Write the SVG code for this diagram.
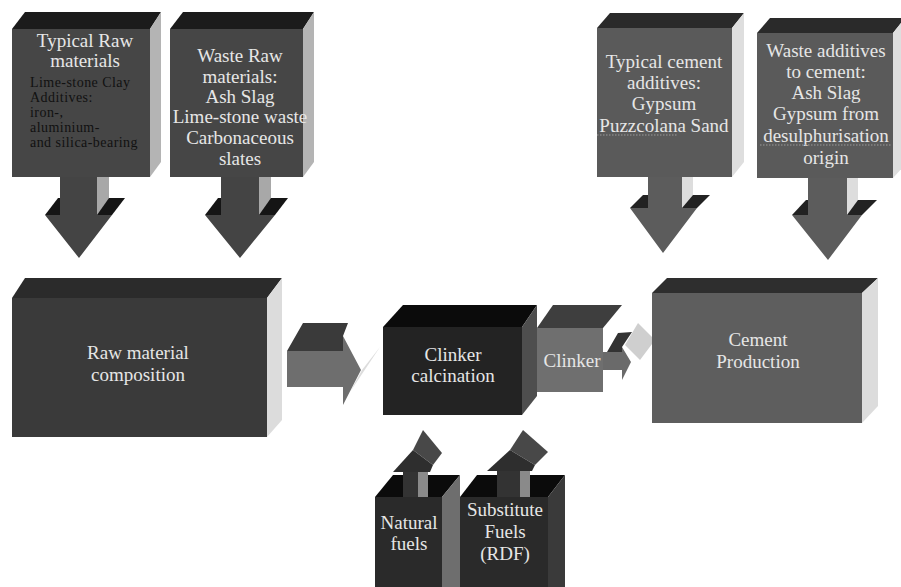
<svg xmlns="http://www.w3.org/2000/svg" width="901" height="587" viewBox="0 0 901 587">
<style>
text{font-family:"Liberation Serif","Times New Roman",serif;font-size:19px;fill:#e6e6e6;text-anchor:middle}
.dk{fill:#111;font-size:14px;letter-spacing:0.45px;text-anchor:start}
.sq{stroke:#9a9a9a;stroke-width:1.2;stroke-dasharray:1.5 1.5;fill:none}
</style>
<rect width="901" height="587" fill="#fff"/>
<g id="connectors">
  <g id="arrow-typical-raw">
    <polygon points="45,215 58,198 125,198 112,215" fill="#151515"/>
    <polygon points="97,177 109,177 109,198 97,215" fill="#a8a8a8"/>
    <polygon points="60,177 97,177 97,215 112,215 79,258 45,215 60,215" fill="#444"/>
  </g>
  <g id="arrow-waste-raw">
    <polygon points="205,215 218,198 288,198 275,215" fill="#151515"/>
    <polygon points="259,177 271,177 271,198 259,215" fill="#a8a8a8"/>
    <polygon points="221,177 259,177 259,215 275,215 240,258 205,215 221,215" fill="#444"/>
  </g>
  <g id="arrow-typical-additives">
    <polygon points="630,208 643,195 710,195 697,208" fill="#222"/>
    <polygon points="682,177 693,177 693,195 682,208" fill="#ddd"/>
    <polygon points="648,177 682,177 682,208 697,208 663,253 630,208 648,208" fill="#5c5c5c"/>
  </g>
  <g id="arrow-waste-additives">
    <polygon points="792,215 806,200 877,200 862,215" fill="#222"/>
    <polygon points="847,178 858,178 858,200 847,215" fill="#ddd"/>
    <polygon points="808,178 847,178 847,215 862,215 828,260 792,215 808,215" fill="#5c5c5c"/>
  </g>
  <g id="arrow-raw-clinker">
    <polygon points="350,392 380,347 362,370" fill="#dcdcdc"/>
    <polygon points="287,351 303,323 348,323 343,336 343,351" fill="#3a3a3a"/>
    <polygon points="287,351 343,351 343,336 361,370 343,405 343,387 287,387" fill="#6e6e6e"/>
  </g>
  <g id="arrow-clinker-cement">
    <polygon points="625,345 638,323 655,340 640,360" fill="#cfcfcf"/>
    <polygon points="607,352 618,333 632,332 622,347 622,352" fill="#333"/>
    <polygon points="602,352 622,352 622,347 631,362 622,380 622,370 602,370" fill="#6a6a6a"/>
  </g>
  <g id="arrow-natural-fuels">
    <rect x="418" y="465" width="10" height="32" fill="#8a8a8a"/>
    <rect x="403" y="465" width="15" height="32" fill="#333"/>
    <polygon points="413,450 423,430 442,453 433,465" fill="#484848"/>
    <polygon points="393,472 413,450 433,465 430,472" fill="#2e2e2e"/>
  </g>
  <g id="arrow-substitute-fuels">
    <rect x="520" y="465" width="10" height="32" fill="#8a8a8a"/>
    <rect x="497" y="465" width="23" height="32" fill="#333"/>
    <polygon points="510,450 523,430 548,452 535,465" fill="#484848"/>
    <polygon points="487,471 510,450 535,465 532,471" fill="#2e2e2e"/>
  </g>
</g>
<g id="node-typical-raw">
  <polygon points="12,29 25,12 161,12 150,29" fill="#1b1b1b"/>
  <polygon points="150,29 161,12 161,162 150,177" fill="#b4b4b4"/>
  <rect x="12" y="29" width="138" height="148" fill="#464646"/>
  <text x="85" y="47">Typical Raw</text>
  <text x="85" y="67">materials</text>
  <text class="dk" x="30" y="87">Lime-stone Clay</text>
  <text class="dk" x="30" y="102">Additives:</text>
  <text class="dk" x="30" y="117">iron-,</text>
  <text class="dk" x="30" y="132">aluminium-</text>
  <text class="dk" x="30" y="147">and silica-bearing</text>
</g>
<g id="node-waste-raw">
  <polygon points="170,29 183,12 314,12 303,29" fill="#1b1b1b"/>
  <polygon points="303,29 314,12 314,162 303,177" fill="#b4b4b4"/>
  <rect x="170" y="29" width="133" height="148" fill="#464646"/>
  <text x="240" y="62">Waste Raw</text>
  <text x="240" y="83">materials:</text>
  <text x="240" y="103">Ash Slag</text>
  <text x="240" y="123">Lime-stone waste</text>
  <text x="240" y="144">Carbonaceous</text>
  <text x="240" y="165">slates</text>
</g>
<g id="node-typical-additives">
  <polygon points="597,28 610,13 744,13 732,28" fill="#2a2a2a"/>
  <polygon points="732,28 744,13 744,162 732,177" fill="#dedede"/>
  <rect x="597" y="28" width="135" height="149" fill="#5a5a5a"/>
  <text x="664" y="68">Typical cement</text>
  <text x="664" y="89">additives:</text>
  <text x="664" y="110">Gypsum</text>
  <text x="664" y="132">Puzzcolana Sand</text>
  <line class="sq" x1="597" y1="135" x2="677" y2="135"/>
</g>
<g id="node-waste-additives">
  <polygon points="757,33 770,18 905,18 893,33" fill="#2a2a2a"/>
  <polygon points="893,33 905,18 905,165 893,178" fill="#dedede"/>
  <rect x="757" y="33" width="136" height="145" fill="#5a5a5a"/>
  <text x="826" y="57">Waste additives</text>
  <text x="826" y="78">to cement:</text>
  <text x="826" y="99">Ash Slag</text>
  <text x="826" y="120">Gypsum from</text>
  <text x="826" y="142">desulphurisation</text>
  <line class="sq" x1="760" y1="145" x2="892" y2="145"/>
  <text x="826" y="164">origin</text>
</g>
<g id="node-raw-composition">
  <polygon points="12,298 25,278 282,278 267,298" fill="#2b2b2b"/>
  <polygon points="267,298 282,278 282,420 267,437" fill="#dcdcdc"/>
  <rect x="12" y="298" width="255" height="139" fill="#3a3a3a"/>
  <text x="138" y="359">Raw material</text>
  <text x="138" y="381">composition</text>
</g>
<g id="node-clinker-calcination">
  <polygon points="383,327 403,305 537,305 522,327" fill="#0b0b0b"/>
  <polygon points="522,327 537,305 537,396 522,415" fill="#4e4e4e"/>
  <rect x="383" y="327" width="139" height="88" fill="#232323"/>
  <text x="453" y="361">Clinker</text>
  <text x="453" y="382">calcination</text>
</g>
<g id="node-clinker">
  <polygon points="537,328 553,305 622,305 603,328" fill="#3e3e3e"/>
  <rect x="537" y="328" width="66" height="64" fill="#6f6f6f"/>
  <text x="572" y="367">Clinker</text>
</g>
<g id="node-cement-production">
  <polygon points="652,293 667,278 878,278 862,293" fill="#2e2e2e"/>
  <polygon points="862,293 878,278 878,406 862,423" fill="#dcdcdc"/>
  <rect x="652" y="293" width="210" height="130" fill="#5e5e5e"/>
  <text x="758" y="346">Cement</text>
  <text x="758" y="368">Production</text>
</g>
<g id="node-natural-fuels">
  <polygon points="375,497 393,475 403,475 403,497" fill="#0b0b0b"/>
  <polygon points="428,475 460,475 442,497 428,497" fill="#0b0b0b"/>
  <polygon points="442,497 460,475 460,587 442,587" fill="#6e6e6e"/>
  <rect x="375" y="497" width="67" height="90" fill="#2a2a2a"/>
  <text x="409" y="529">Natural</text>
  <text x="409" y="550">fuels</text>
</g>
<g id="node-substitute-fuels">
  <polygon points="460,497 477,475 497,475 497,497" fill="#0b0b0b"/>
  <polygon points="530,475 565,475 548,497 530,497" fill="#0b0b0b"/>
  <polygon points="548,497 565,475 565,587 548,587" fill="#3a3a3a"/>
  <rect x="460" y="497" width="88" height="90" fill="#2a2a2a"/>
  <text x="505" y="516">Substitute</text>
  <text x="505" y="538">Fuels</text>
  <text x="505" y="560">(RDF)</text>
</g>
</svg>
